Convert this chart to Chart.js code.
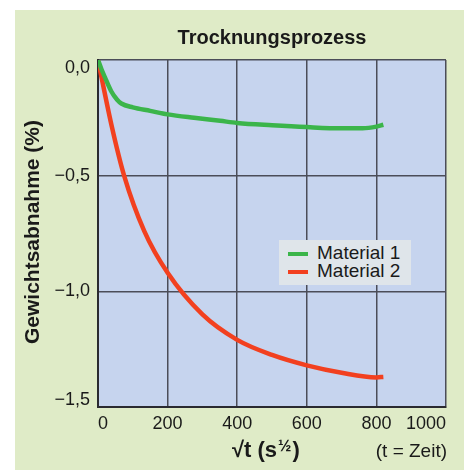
<!DOCTYPE html>
<html>
<head>
    <title>Trocknungsprozess</title>
    <script src="https://cdn.jsdelivr.net/npm/chart.js"></script>
    <style>
        body { margin: 0; background: #fff; width: 464px; height: 470px; overflow: hidden; }
        #frame { position: absolute; left: 15px; top: 10px; width: 449px; height: 460px; background: #dfebc7; }
        #legend { position: absolute; left: 264px; top: 230px; width: 132px; height: 45px; background: #dfe5ea;
                  font-family: "Liberation Sans", Arial, sans-serif; font-size: 19px; color: #1a1a1a; }
        .row { position: absolute; left: 9px; height: 20px; line-height: 20px; white-space: nowrap; }
        .row span.sw { display: inline-block; width: 20px; height: 4px; vertical-align: middle; margin-right: 9px; }
    </style>
</head>
<body>
    <div id="frame">
        <canvas id="chart" width="449" height="460"></canvas>
        <div id="legend"></div>
    </div>

    <script>
// Werte
const seriesNames = ['Material 1', 'Material 2'];
const seriesColors = ['#3bb54a', '#f2401f'];

const xMaterial1 = [0, 10, 20, 38, 55, 67, 100, 150, 200, 276, 351, 400, 500, 600, 700, 760, 800, 820];
const yMaterial1 = [0, -0.04, -0.075, -0.135, -0.172, -0.188, -0.205, -0.22, -0.235, -0.25, -0.263, -0.272, -0.282, -0.29, -0.295, -0.295, -0.288, -0.28];

const xMaterial2 = [0, 40, 75, 133, 200, 300, 400, 500, 600, 700, 800, 820];
const yMaterial2 = [0, -0.29, -0.5, -0.74, -0.92, -1.10, -1.21, -1.275, -1.32, -1.352, -1.372, -1.37];

const xTicks = [0, 200, 400, 600, 800, 1000];
const yTicks = [0, -0.5, -1.0, -1.5];
const yTickLabels = ['0,0', '\u22120,5', '\u22121,0', '\u22121,5'];

const font = '"Liberation Sans", Arial, sans-serif';

function toPoints(xs, ys) {
    return xs.map((x, i) => ({ x: x, y: ys[i] }));
}

// Legende als HTML
const legend = document.getElementById('legend');
seriesNames.forEach((name, i) => {
    const row = document.createElement('div');
    row.className = 'row';
    row.style.top = (3 + i * 18) + 'px';
    row.innerHTML = '<span class="sw" style="background:' + seriesColors[i] + '"></span>' + name;
    legend.appendChild(row);
});

// Hintergrund der Zeichenfläche und Beschriftungen
const decor = {
    id: 'decor',
    beforeDraw(chart) {
        const { ctx, chartArea: a } = chart;
        ctx.save();
        ctx.fillStyle = '#c6d4ee';
        ctx.fillRect(a.left, a.top, a.right - a.left, a.bottom - a.top);
        ctx.restore();

        // erste und letzte y-Beschriftung nach innen schieben
        const items = chart.scales.y.getLabelItems();
        items.forEach(item => {
            if (item.label === yTickLabels[0]) item.options.translation[1] += 8;
            if (item.label === yTickLabels[yTickLabels.length - 1]) item.options.translation[1] -= 7;
        });
    },
    afterDraw(chart) {
        const ctx = chart.ctx;
        ctx.save();
        ctx.fillStyle = '#1a1a1a';
        ctx.textBaseline = 'middle';

        // Titel
        ctx.font = 'bold 20px ' + font;
        ctx.textAlign = 'center';
        ctx.fillText('Trocknungsprozess', 257, 28);

        // y-Achsentitel
        ctx.save();
        ctx.translate(18, 222);
        ctx.rotate(-Math.PI / 2);
        ctx.font = 'bold 21px ' + font;
        ctx.fillText('Gewichtsabnahme (%)', 0, 0);
        ctx.restore();

        // x-Achsentitel: √t (s½)
        ctx.textAlign = 'left';
        ctx.font = 'bold 22px ' + font;
        let x = 217;
        const y = 441;
        ctx.fillText('\u221At (s', x, y);
        x += ctx.measureText('\u221At (s').width + 1;
        ctx.font = 'bold 16px ' + font;
        ctx.fillText('\u00BD', x, y - 4);
        x += ctx.measureText('\u00BD').width + 1;
        ctx.font = 'bold 22px ' + font;
        ctx.fillText(')', x, y);

        ctx.font = '19px ' + font;
        ctx.textAlign = 'right';
        ctx.fillText('(t = Zeit)', 432, 442);
        ctx.restore();
    }
};

new Chart(document.getElementById('chart').getContext('2d'), {
    type: 'line',
    data: {
        datasets: [
            {
                label: seriesNames[0],
                data: toPoints(xMaterial1, yMaterial1),
                borderColor: seriesColors[0],
                borderWidth: 4.5,
                pointRadius: 0,
                cubicInterpolationMode: 'monotone'
            },
            {
                label: seriesNames[1],
                data: toPoints(xMaterial2, yMaterial2),
                borderColor: seriesColors[1],
                borderWidth: 4.5,
                pointRadius: 0,
                cubicInterpolationMode: 'monotone'
            }
        ]
    },
    options: {
        responsive: false,
        animation: false,
        layout: { padding: { top: 50, right: 18, left: 0, bottom: 0 } },
        plugins: {
            legend: { display: false },
            tooltip: { enabled: false }
        },
        scales: {
            x: {
                type: 'linear',
                min: 0,
                max: 1000,
                afterBuildTicks: scale => { scale.ticks = xTicks.map(v => ({ value: v })); },
                afterFit: scale => { scale.height = 63; },
                grid: { color: '#4b4d58', lineWidth: 1.5, drawTicks: false },
                border: { color: '#2a2a30', width: 2 },
                ticks: {
                    align: 'inner',
                    padding: 6,
                    color: '#1a1a1a',
                    font: { family: font, size: 18 },
                    callback: v => String(v)
                }
            },
            y: {
                min: -1.5,
                max: 0,
                afterBuildTicks: scale => { scale.ticks = yTicks.map(v => ({ value: v })); },
                afterFit: scale => { scale.width = 83; },
                grid: { color: '#4b4d58', lineWidth: 1.5, drawTicks: false },
                border: { color: '#2a2a30', width: 2 },
                ticks: {
                    padding: 8,
                    color: '#1a1a1a',
                    font: { family: font, size: 18 },
                    callback: v => yTickLabels[yTicks.indexOf(v)]
                }
            }
        }
    },
    plugins: [decor]
});
    </script>
</body>
</html>
